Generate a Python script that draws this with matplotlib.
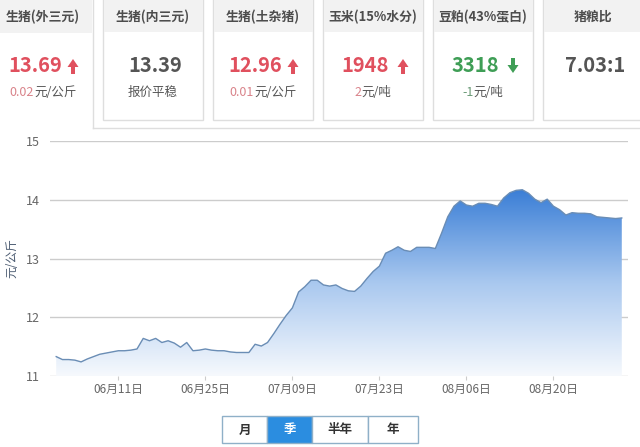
import numpy as np
import pandas as pd
import matplotlib
matplotlib.use('Agg')
import matplotlib.pyplot as plt
from matplotlib.patches import Rectangle, Polygon
from matplotlib.colors import LinearSegmentedColormap

plt.rcParams['font.family'] = ['Noto Sans CJK SC', 'DejaVu Sans']

# 顶部报价卡片
card_titles = ['生猪(外三元)', '生猪(内三元)', '生猪(土杂猪)', '玉米(15%水分)', '豆粕(43%蛋白)', '猪粮比']
card_values = ['13.69', '13.39', '12.96', '1948', '3318', '7.03:1']
card_change = ['0.02', '', '0.01', '2', '-1', '']
card_unit = ['元/公斤', '报价平稳', '元/公斤', '元/吨', '元/吨', '']
card_trend = ['up', 'flat', 'up', 'up', 'down', 'flat']

# 季度走势 2020-06-01 ~ 2020-08-31
dates = pd.date_range('2020-06-01', '2020-08-31', freq='D')
prices = [11.33, 11.28, 11.28, 11.27, 11.24, 11.29, 11.33, 11.37, 11.39, 11.41,
          11.43, 11.43, 11.44, 11.46, 11.64, 11.60, 11.64, 11.57, 11.60, 11.56,
          11.49, 11.57, 11.43, 11.44, 11.46, 11.44, 11.43, 11.43, 11.41, 11.40,
          11.40, 11.40, 11.54, 11.51, 11.57, 11.72, 11.88, 12.03, 12.16, 12.43,
          12.52, 12.63, 12.63, 12.55, 12.53, 12.55, 12.49, 12.45, 12.44, 12.53,
          12.66, 12.78, 12.87, 13.09, 13.14, 13.20, 13.14, 13.12, 13.19, 13.19,
          13.19, 13.17, 13.43, 13.71, 13.89, 13.98, 13.91, 13.89, 13.94, 13.94,
          13.92, 13.89, 14.03, 14.12, 14.16, 14.17, 14.11, 14.01, 13.95, 14.01,
          13.89, 13.83, 13.74, 13.78, 13.77, 13.77, 13.76, 13.71, 13.70, 13.69,
          13.68, 13.69]
tick_dates = ['2020-06-11', '2020-06-25', '2020-07-09', '2020-07-23', '2020-08-06', '2020-08-20']
y_ticks = [11, 12, 13, 14, 15]
buttons = ['月', '季', '半年', '年']

W, H = 640, 447
fig = plt.figure(figsize=(W / 100, H / 100), dpi=100)
fig.patch.set_facecolor('white')

# 背景层，用像素坐标画卡片和按钮
bg = fig.add_axes([0, 0, 1, 1])
bg.set_xlim(0, W)
bg.set_ylim(H, 0)
bg.axis('off')

red = '#e0505e'
green = '#3f9e56'
gray_txt = '#555555'
border = '#dedede'


def arrow(ax, x, y, up, color):
    # 粗箭头图标
    d = -1 if up else 1
    head = [(x - 5.5, y + d * -1), (x + 5.5, y + d * -1), (x, y + d * 7)]
    shaft = [(x - 2, y - d * 8), (x + 2, y - d * 8), (x + 2, y), (x - 2, y)]
    ax.add_patch(Polygon(head, closed=True, color=color, lw=0))
    ax.add_patch(Polygon(shaft, closed=True, color=color, lw=0))


# 外框线
bg.plot([93, 93], [0, 128], color=border, lw=1)
bg.plot([93, W], [128, 128], color=border, lw=1)

fig.canvas.draw()
r = fig.canvas.get_renderer()

for i, t in enumerate(card_titles):
    x0 = -7 + 110 * i
    cx = x0 + 50
    if i == 0:
        bg.add_patch(Rectangle((0, 0), 92, 33, color='#f2f2f2', lw=0))
        cx = 43
    else:
        bg.add_patch(Rectangle((x0, -2), 100, 122, facecolor='white', edgecolor=border, lw=1))
        bg.add_patch(Rectangle((x0 + 0.5, -2), 99, 34, color='#f2f2f2', lw=0))
    bg.text(cx, 17, t, ha='center', va='center', fontsize=9.3, fontweight='bold', color='#4d4d4d')

    tr = card_trend[i]
    vcol = red if tr == 'up' else (green if tr == 'down' else '#555555')
    if tr == 'flat':
        bg.text(cx + 2, 66, card_values[i], ha='center', va='center', fontsize=14.5,
                fontweight='bold', color=vcol)
    else:
        bg.text(cx - 8, 66, card_values[i], ha='center', va='center', fontsize=14.5,
                fontweight='bold', color=vcol)
        arrow(bg, cx + 30, 66, tr == 'up', vcol)
    if card_unit[i]:
        if card_change[i]:
            chg_col = '#d9838a' if tr == 'up' else '#6a9a76'
            t1 = bg.text(cx, 92, card_change[i], ha='right', va='center', fontsize=9, color=chg_col)
            t2 = bg.text(cx, 92, card_unit[i], ha='left', va='center', fontsize=9, color=gray_txt)
            # 按实际宽度居中摆放
            w1 = t1.get_window_extent(r).width
            w2 = t2.get_window_extent(r).width
            left = cx - (w1 + w2) / 2
            t1.set_position((left + w1, 92))
            t2.set_position((left + w1, 92))
        else:
            bg.text(cx, 92, card_unit[i], ha='center', va='center', fontsize=9, color=gray_txt)

# 按钮
bx = [222, 267, 312, 368, 418]
for i, b in enumerate(buttons):
    active = b == '季'
    bg.add_patch(Rectangle((bx[i], 416), bx[i + 1] - bx[i], 27,
                           facecolor='#2b8de0' if active else 'white',
                           edgecolor='#8fb0c8', lw=1))
    bg.text((bx[i] + bx[i + 1]) / 2, 430, b, ha='center', va='center', fontsize=9,
            fontweight='bold', color='white' if active else '#333333')

# 走势图
ax = fig.add_axes([50 / W, 1 - 376 / H, 578 / W, 235 / H])
ax.set_facecolor('none')
x = np.arange(len(dates))
y = np.array(prices)

cmap = LinearSegmentedColormap.from_list('g', ['#f6f9fd', '#a9c8ef', '#3a7ed6'])
grad = np.linspace(0, 1, 256).reshape(-1, 1)
poly = ax.fill_between(x, y, 11, color='none', lw=0)
im = ax.imshow(grad, extent=[x[0], x[-1], 11, y.max()], aspect='auto', cmap=cmap,
               origin='lower', zorder=1)
im.set_clip_path(poly.get_paths()[0], transform=ax.transData)
ax.plot(x, y, color='#6a8db5', lw=1, zorder=3)

ax.set_xlim(-1, 92)
ax.set_ylim(11, 15)
ax.set_yticks(y_ticks)
ax.set_yticklabels([str(v) for v in y_ticks])
for v in y_ticks:
    ax.axhline(v, color='#cccccc', lw=1, zorder=0)
ticks = [list(dates).index(pd.Timestamp(d)) for d in tick_dates]
ax.set_xticks(ticks)
ax.set_xticklabels([pd.Timestamp(d).strftime('%m月%d日') for d in tick_dates])
ax.tick_params(axis='y', length=0, pad=7, labelsize=9, labelcolor='#666666')
ax.tick_params(axis='x', length=3, color='#cccccc', pad=2, labelsize=8.5, labelcolor='#666666')
for s in ax.spines.values():
    s.set_visible(False)
ax.set_ylabel('元/公斤', fontsize=8.5, color='#4a5a70', labelpad=6)

plt.savefig('out.png', dpi=100)
